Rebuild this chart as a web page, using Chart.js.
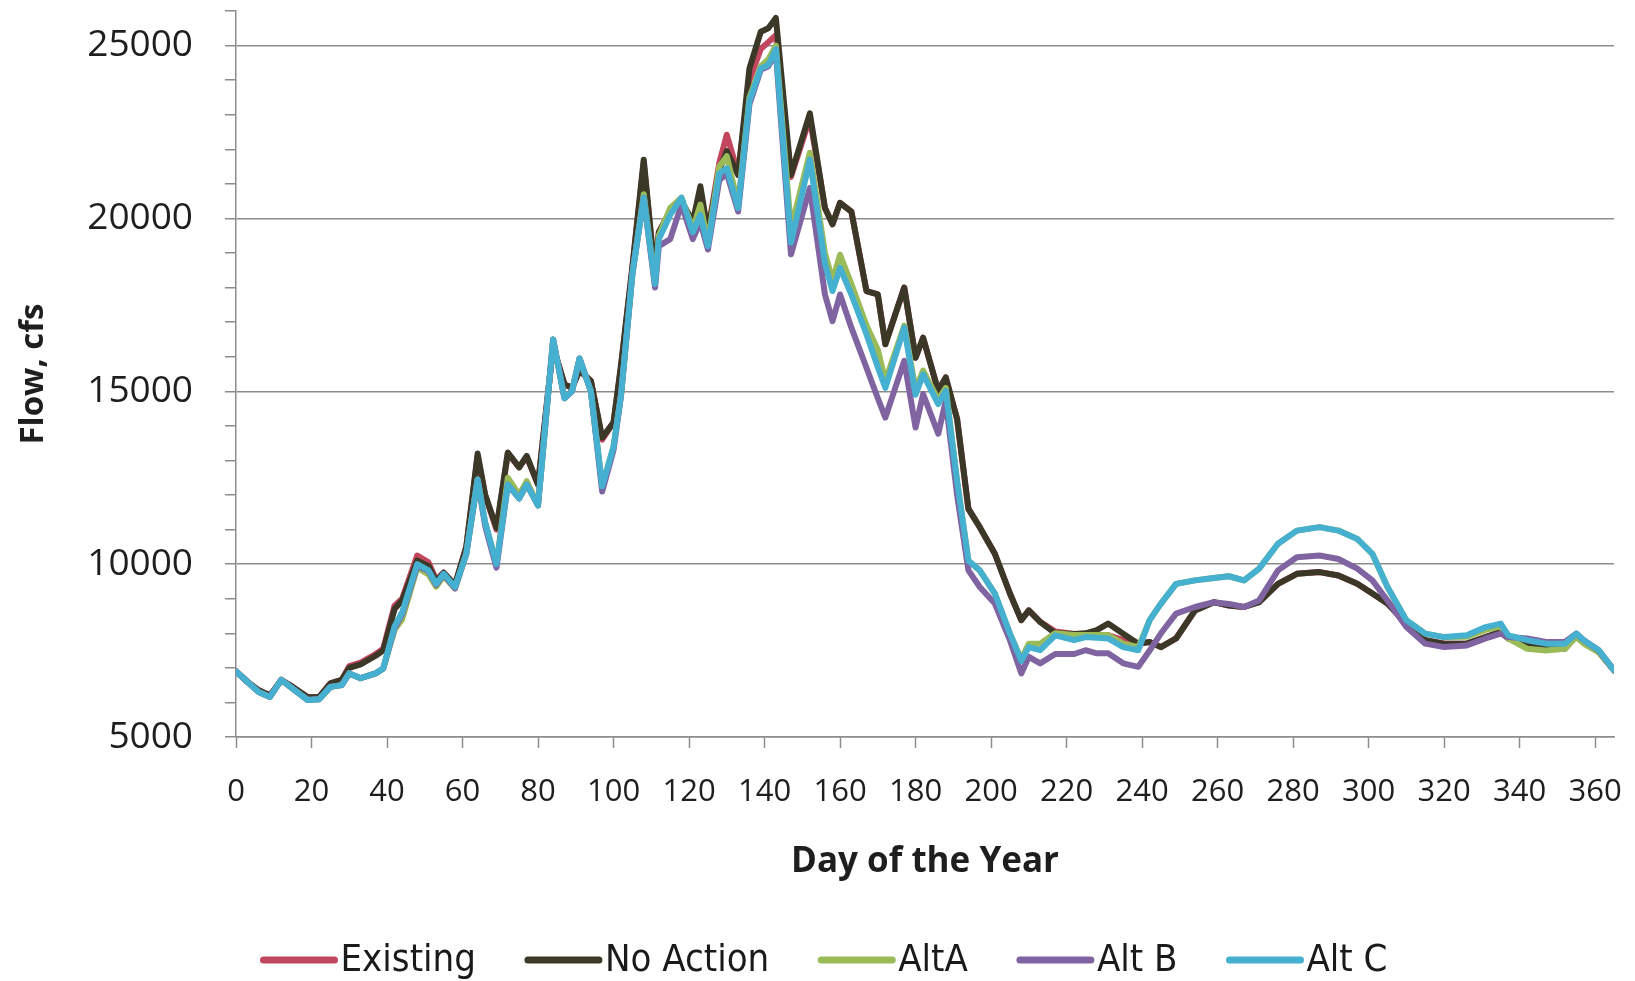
<!DOCTYPE html>
<html>
<head>
<meta charset="utf-8">
<title>Flow by Day of the Year</title>
<script src="https://cdn.jsdelivr.net/npm/chart.js@4.4.1/dist/chart.umd.min.js"></script>
<style>
  html, body { margin: 0; padding: 0; background: #ffffff; }
  #wrap { width: 1635px; height: 981px; }
</style>
</head>
<body>
<div id="wrap"><canvas id="chartFlow"></canvas></div>
<script>
// ==================== DATA ====================
const days = [
  0, 3, 6, 9, 12, 15, 19, 22, 25, 28,
  30, 33, 37, 39, 42, 44, 48, 51, 53, 55,
  58, 61, 64, 66, 69, 72, 75, 77, 80, 84,
  87, 89, 91, 94, 97, 100, 102, 105, 108, 111,
  112, 115, 118, 121, 123, 125, 128, 130, 133, 136,
  139, 141, 143, 147, 152, 156, 158, 160, 163, 167,
  170, 172, 177, 180, 182, 186, 188, 191, 194, 197,
  201, 205, 208, 210, 213, 217, 222, 225, 228, 231,
  235, 239, 242, 245, 249, 254, 259, 263, 267, 271,
  276, 281, 287, 292, 297, 301, 305, 310, 315, 320,
  326, 331, 335, 337, 342, 347, 352, 355, 357, 361,
  365
];

const existing = [
  6900, 6600, 6350, 6200, 6650, 6450, 6150, 6150, 6550, 6650,
  7050, 7150, 7400, 7550, 8800, 9000, 10250, 10050, 9550, 9750,
  9400, 10500, 13100, 12000, 11000, 13200, 12800, 13100, 12300, 16300,
  15200, 15100, 15600, 15300, 13600, 14100, 15700, 18600, 21600, 18300,
  19600, 20200, 20500, 19900, 20800, 19600, 21600, 22420, 21300, 24000,
  24900, 25100, 25300, 21200, 22900, 20300, 19830, 20450, 20200, 17900,
  17800, 16360, 18000, 15970, 16550, 15010, 15400, 14200, 11600, 11070,
  10300, 9150, 8380, 8660, 8330, 8050, 7980, 7950, 7950, 7950,
  7800, 7700, 7750, 7600, 7850, 8660, 8900, 8800, 8760, 8900,
  9430, 9720, 9770, 9670, 9430, 9150, 8860, 8280, 7800, 7700,
  7700, 7890, 8040, 7850, 7700, 7560, 7560, 7940, 7750, 7460,
  6930
];

const noAction = [
  6900, 6600, 6350, 6200, 6650, 6450, 6150, 6150, 6550, 6650,
  7000, 7100, 7350, 7500, 8700, 8950, 10100, 9950, 9500, 9750,
  9400, 10500, 13200, 12000, 11050, 13230, 12800, 13130, 12300, 16300,
  15200, 15100, 15600, 15300, 13660, 14100, 15780, 18600, 21700, 18300,
  19600, 20200, 20500, 19900, 20930, 19600, 21400, 21950, 21260, 24340,
  25400, 25500, 25800, 21260, 23040, 20300, 19830, 20450, 20200, 17900,
  17800, 16360, 18000, 15970, 16550, 15010, 15400, 14200, 11600, 11070,
  10300, 9150, 8380, 8660, 8330, 8000, 7980, 8000, 8090, 8280,
  7990, 7700, 7750, 7600, 7850, 8660, 8900, 8800, 8760, 8900,
  9430, 9720, 9770, 9670, 9430, 9150, 8860, 8280, 7800, 7700,
  7700, 7890, 8040, 7850, 7700, 7560, 7560, 7940, 7750, 7460,
  6930
];

const altA = [
  6900, 6600, 6300, 6160, 6650, 6400, 6070, 6090, 6450, 6500,
  6840, 6700, 6840, 6980, 8100, 8400, 9900, 9700, 9350, 9650,
  9300, 10300, 12450, 11200, 10000, 12500, 12000, 12400, 11700, 16500,
  14800, 15000, 15950, 15000, 12250, 13400, 14900, 18400, 20700, 18100,
  19500, 20300, 20600, 19700, 20400, 19300, 21500, 21800, 20400, 23500,
  24400, 24600, 25000, 19700, 21900, 19000, 18200, 18950, 18100, 16900,
  16200, 15300, 16900, 15050, 15600, 14750, 15100, 12400, 10100, 9820,
  9150, 7990, 7250, 7700, 7700, 8000, 7950, 7950, 7950, 7950,
  7700, 7600, 8380, 8860, 9430, 9530, 9600, 9650, 9530, 9870,
  10590, 10970, 11070, 10970, 10730, 10300, 9340, 8380, 7990, 7890,
  7900, 8100, 8200, 7850, 7550, 7500, 7550, 7900, 7700, 7450,
  6930
];

const altB = [
  6900, 6600, 6300, 6160, 6650, 6400, 6070, 6090, 6450, 6500,
  6840, 6700, 6840, 6980, 8150, 8550, 9950, 9800, 9400, 9700,
  9300, 10300, 12450, 11100, 9900, 12300, 11900, 12300, 11700, 16500,
  14800, 15000, 15950, 15000, 12100, 13300, 14900, 18400, 20600, 18000,
  19200, 19400, 20400, 19400, 19900, 19100, 21100, 21300, 20200, 23300,
  24300, 24400, 24800, 18960, 20880, 17800, 17030, 17800, 16840, 15680,
  14800, 14240, 15880, 13950, 14920, 13770, 14720, 12000, 9820, 9340,
  8860, 7800, 6840, 7320, 7130, 7400, 7400, 7510, 7420, 7420,
  7130, 7030, 7500, 8000, 8570, 8760, 8900, 8850, 8760, 8950,
  9820, 10200, 10250, 10150, 9870, 9530, 8950, 8180, 7700, 7600,
  7650, 7850, 7990, 7890, 7850, 7750, 7750, 7990, 7800, 7500,
  6930
];

const altC = [
  6900, 6600, 6300, 6160, 6650, 6400, 6070, 6090, 6450, 6500,
  6840, 6700, 6840, 6980, 8200, 8600, 10000, 9820, 9430, 9720,
  9340, 10300, 12450, 11200, 10000, 12300, 11900, 12300, 11700, 16500,
  14800, 15000, 15950, 15000, 12250, 13400, 14900, 18400, 20600, 18100,
  19400, 20100, 20600, 19600, 20100, 19200, 21300, 21450, 20300, 23400,
  24340, 24440, 24900, 19300, 21700, 18700, 17900, 18570, 17800, 16650,
  15700, 15100, 16840, 14900, 15490, 14630, 15010, 12400, 10100, 9820,
  9150, 7990, 7200, 7600, 7510, 7940, 7800, 7890, 7870, 7850,
  7600, 7510, 8380, 8860, 9430, 9530, 9600, 9650, 9530, 9870,
  10590, 10970, 11070, 10970, 10730, 10300, 9340, 8380, 7990, 7890,
  7940, 8180, 8280, 7940, 7800, 7700, 7700, 7990, 7800, 7510,
  6930
];

const seriesNames = ['Existing', 'No Action', 'AltA', 'Alt B', 'Alt C'];
const seriesValues = [existing, noAction, altA, altB, altC];
const seriesColors = ['#C1465E', '#3B3828', '#9BBB59', '#8064A2', '#45B0CF'];

// ==================== YARDIMCI ====================
function toPoints(values) {
  return values.map((v, i) => ({ x: days[i], y: v }));
}

// legend drawn as thick line samples, Excel style
const lineLegend = {
  id: 'lineLegend',
  afterDraw(chart) {
    const ctx = chart.ctx;
    const sets = chart.data.datasets;
    const sample = 77, gap = 3, itemGap = 49;
    ctx.save();
    ctx.font = "38px 'Liberation Sans Narrow', 'DejaVu Sans Condensed', sans-serif";
    const widths = sets.map(d => sample + gap + ctx.measureText(d.label).width);
    const total = widths.reduce((a, b) => a + b, 0) + itemGap * (sets.length - 1);
    let x = 824 - total / 2;
    const y = 960;
    sets.forEach((d, i) => {
      ctx.strokeStyle = d.borderColor;
      ctx.lineWidth = 7;
      ctx.lineCap = 'round';
      ctx.beginPath();
      ctx.moveTo(x + 3, y);
      ctx.lineTo(x + sample - 3, y);
      ctx.stroke();
      ctx.fillStyle = '#1a1a1a';
      ctx.textBaseline = 'middle';
      ctx.fillText(d.label, x + sample + gap, y + 1);
      x += widths[i] + itemGap;
    });
    ctx.restore();
  }
};

// ==================== GRAFİK ====================
const axisGray = '#8c8c8c';

const datasets = seriesNames.map((name, i) => ({
  label: name,
  data: toPoints(seriesValues[i]),
  borderColor: seriesColors[i],
  backgroundColor: seriesColors[i],
  borderWidth: 6,
  borderJoinStyle: 'round',
  borderCapStyle: 'round',
  pointRadius: 0,
  tension: 0,
  fill: false,
  order: seriesNames.length - i   // Alt C on top, like the original
}));

new Chart(document.getElementById('chartFlow').getContext('2d'), {
  type: 'line',
  data: { datasets: datasets },
  options: {
    responsive: true,
    maintainAspectRatio: false,
    animation: false,
    devicePixelRatio: 1,
    layout: { padding: { top: 11, right: 21, left: 0, bottom: 0 } },
    plugins: {
      legend: { display: false },
      tooltip: { enabled: false }
    },
    scales: {
      x: {
        type: 'linear',
        min: 0,
        max: 365,
        afterFit: function(scale) {
          scale.height = 244;
          scale.paddingLeft = 0;
          scale.paddingRight = 0;
        },
        border: { color: axisGray, width: 1.5 },
        grid: { drawOnChartArea: false, tickLength: 11, tickColor: axisGray, tickWidth: 1.5 },
        ticks: {
          stepSize: 20,
          includeBounds: false,
          autoSkip: false,
          maxRotation: 0,
          padding: 26,
          color: '#1e1e1e',
          font: { family: "'Open Sans', sans-serif", size: 31 },
          callback: function(value) { return String(value); }
        },
        title: {
          display: true,
          text: 'Day of the Year',
          color: '#1e1e1e',
          font: { family: "'Open Sans', sans-serif", size: 35, weight: 'bold' },
          padding: { top: 0, bottom: 98 }
        }
      },
      y: {
        min: 5000,
        max: 26000,
        afterFit: function(scale) {
          scale.width = 236;
          scale.paddingTop = 0;
          scale.paddingBottom = 0;
        },
        border: { color: axisGray, width: 1.5 },
        grid: {
          color: function(c) {
            return c.tick && c.tick.value % 5000 === 0 ? axisGray : 'rgba(0,0,0,0)';
          },
          lineWidth: 1.5,
          tickLength: 11,
          tickColor: axisGray,
          tickWidth: 1.5
        },
        ticks: {
          stepSize: 1000,
          autoSkip: false,
          padding: 32,
          color: '#1e1e1e',
          font: { family: "'Open Sans', sans-serif", size: 37 },
          callback: function(value) { return value % 5000 === 0 ? String(value) : ''; }
        },
        title: {
          display: true,
          text: 'Flow, cfs',
          color: '#1e1e1e',
          font: { family: "'Open Sans', sans-serif", size: 33, weight: 'bold' },
          padding: { top: 14, bottom: 0 }
        }
      }
    }
  },
  plugins: [lineLegend]
});
</script>
</body>
</html>
